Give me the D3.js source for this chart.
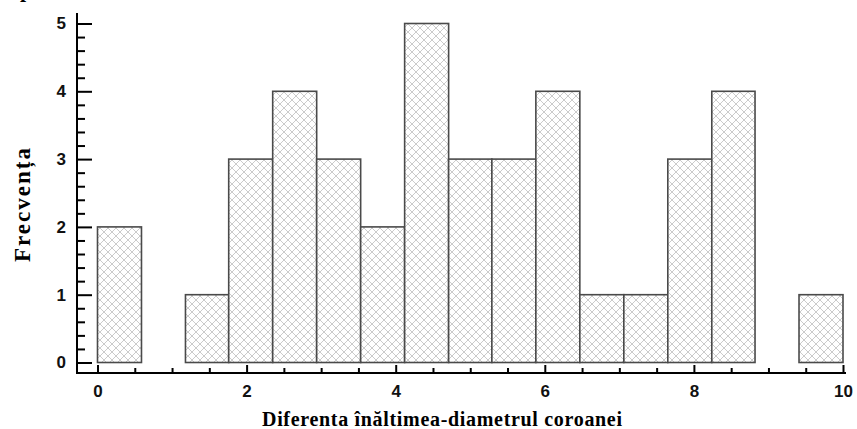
<!DOCTYPE html>
<html>
<head>
<meta charset="utf-8">
<script src="https://cdn.jsdelivr.net/npm/d3@7.9.0/dist/d3.min.js"></script>
<style>
  body { margin: 0; background: #fff; }
  svg { display: block; }
</style>
</head>
<body>
<div id="chart"></div>
<script>
// histogram bins (17 bins from 0 to 10)
const binStarts = [0, 0.59, 1.18, 1.76, 2.35, 2.94, 3.53, 4.12, 4.71, 5.29, 5.88, 6.47, 7.06, 7.65, 8.24, 8.82, 9.41];
const binEnds   = [0.59, 1.18, 1.76, 2.35, 2.94, 3.53, 4.12, 4.71, 5.29, 5.88, 6.47, 7.06, 7.65, 8.24, 8.82, 9.41, 10];
const counts    = [2, 0, 1, 3, 4, 3, 2, 5, 3, 3, 4, 1, 1, 3, 4, 0, 1];

const xTicks = [0, 2, 4, 6, 8, 10];
const xMinor = [0.5, 1, 1.5, 2.5, 3, 3.5, 4.5, 5, 5.5, 6.5, 7, 7.5, 8.5, 9, 9.5];
const yTicks = [0, 1, 2, 3, 4, 5];
const yMinor = [0.2, 0.4, 0.6, 0.8, 1.2, 1.4, 1.6, 1.8, 2.2, 2.4, 2.6, 2.8, 3.2, 3.4, 3.6, 3.8, 4.2, 4.4, 4.6, 4.8];

const xTitle = "Diferenta înăltimea-diametrul coroanei";
const yTitle = "Frecvența";

const width = 857, height = 429;
const axisX = 77, axisY = 373;

const svg = d3.select("#chart").append("svg")
  .attr("width", width)
  .attr("height", height);

// crosshatch fill
const defs = svg.append("defs");
const pat = defs.append("pattern")
  .attr("id", "hatch")
  .attr("patternUnits", "userSpaceOnUse")
  .attr("width", 8)
  .attr("height", 8);
pat.append("rect").attr("width", 8).attr("height", 8).attr("fill", "#fff");
pat.append("path")
  .attr("d", "M0,0L8,8M8,0L0,8")
  .attr("stroke", "#cbcbcb")
  .attr("stroke-width", 1);

const x = d3.scaleLinear().domain([0, 10]).range([97.5, 843]);
const y = d3.scaleLinear().domain([0, 5]).range([362.5, 23.5]);

// bars
svg.append("g")
  .selectAll("rect")
  .data(counts.map((c, i) => ({ x0: binStarts[i], x1: binEnds[i], n: c })).filter(d => d.n > 0))
  .enter().append("rect")
  .attr("x", d => x(d.x0))
  .attr("y", d => y(d.n))
  .attr("width", d => x(d.x1) - x(d.x0))
  .attr("height", d => y(0) - y(d.n))
  .attr("fill", "url(#hatch)")
  .attr("stroke", "#4a4a4a")
  .attr("stroke-width", 1.6);

// y axis
const yAxis = svg.append("g")
  .attr("transform", `translate(${axisX},0)`)
  .call(d3.axisLeft(y).tickValues(yTicks).tickSize(-15).tickPadding(11).tickFormat(d3.format("d")));
const yAxisMinor = svg.append("g")
  .attr("transform", `translate(${axisX},0)`)
  .call(d3.axisLeft(y).tickValues(yMinor).tickSize(-8).tickFormat(""));

// x axis
const xAxis = svg.append("g")
  .attr("transform", `translate(0,${axisY})`)
  .call(d3.axisBottom(x).tickValues(xTicks).tickSize(-8).tickPadding(12).tickFormat(d3.format("d")));
const xAxisMinor = svg.append("g")
  .attr("transform", `translate(0,${axisY})`)
  .call(d3.axisBottom(x).tickValues(xMinor).tickSize(-5).tickFormat(""));

[yAxis, yAxisMinor, xAxis, xAxisMinor].forEach(g => {
  g.select(".domain").remove();
  g.selectAll(".tick line").attr("stroke", "#000").attr("stroke-width", 2);
  g.selectAll(".tick text")
    .attr("fill", "#111")
    .style("font-family", "'Liberation Sans', Arial, sans-serif")
    .style("font-weight", "bold")
    .style("font-size", "17px");
});

// axis lines
svg.append("line")
  .attr("x1", axisX).attr("x2", axisX)
  .attr("y1", 13).attr("y2", axisY + 1)
  .attr("stroke", "#000").attr("stroke-width", 2);
svg.append("line")
  .attr("x1", axisX - 1).attr("x2", 846)
  .attr("y1", axisY).attr("y2", axisY)
  .attr("stroke", "#000").attr("stroke-width", 2);

// titles
svg.append("text")
  .attr("x", 442)
  .attr("y", 426)
  .attr("text-anchor", "middle")
  .attr("textLength", 360)
  .attr("lengthAdjust", "spacing")
  .style("font-family", "'Liberation Serif', 'Times New Roman', serif")
  .style("font-weight", "bold")
  .style("font-size", "20px")
  .text(xTitle);

svg.append("text")
  .attr("transform", "translate(30,205) rotate(-90)")
  .attr("text-anchor", "middle")
  .attr("textLength", 114)
  .attr("lengthAdjust", "spacing")
  .style("font-family", "'Liberation Serif', 'Times New Roman', serif")
  .style("font-weight", "bold")
  .style("font-size", "23px")
  .text(yTitle);

// letter cut off at the top edge, as in the source image
svg.append("text")
  .attr("x", 20)
  .attr("y", -3)
  .style("font-family", "'Liberation Serif', 'Times New Roman', serif")
  .style("font-weight", "bold")
  .style("font-size", "22px")
  .text("p");
</script>
</body>
</html>
